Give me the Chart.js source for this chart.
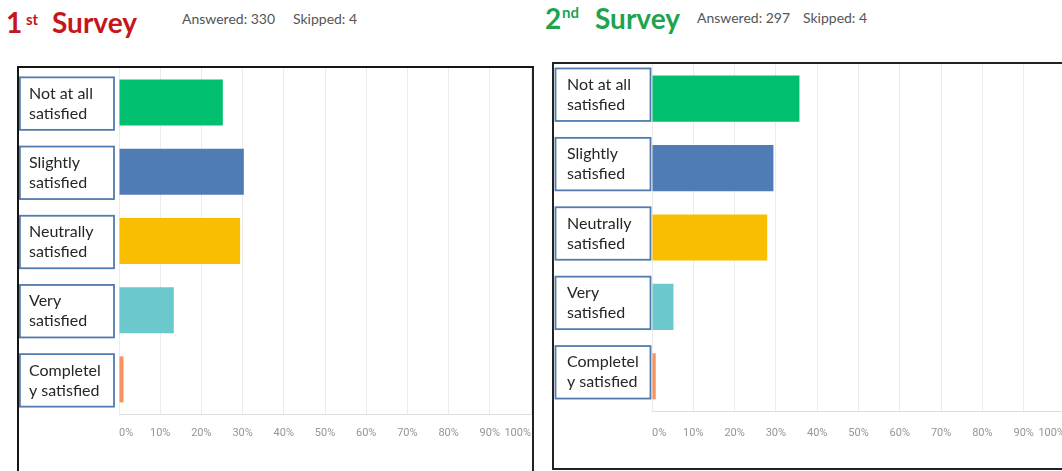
<!DOCTYPE html>
<html>
<head>
<meta charset="utf-8">
<script src="https://cdn.jsdelivr.net/npm/chart.js@4.4.1/dist/chart.umd.min.js"></script>
<style>
  html, body { margin: 0; padding: 0; background: #fff; }
  body { width: 1062px; height: 471px; overflow: hidden; position: relative; font-family: Lato, "Open Sans", sans-serif; }
  .head { position: absolute; top: 0; left: 0; white-space: nowrap; font-weight: 700; }
  .head span { position: absolute; white-space: nowrap; }
  .big { font-size: 28px; line-height: 32px; }
  .small { font-size: 15px; line-height: 18px; }
  .red { color: #c4161c; }
  .green { color: #1ea34f; }
  .meta { position: absolute; font-size: 14px; line-height: 16px; color: #555; white-space: nowrap; }
  .frame { position: absolute; box-sizing: content-box; }
  .frame canvas { display: block; }
  #frameA { left: 17px; top: 66px; width: 513px; height: 403px;
            border-left: 2px solid #151515; border-top: 2px solid #151515;
            border-right: 2px solid #222; border-bottom: 1px solid #bdbdbd; }
  #frameB { left: 552px; top: 62px; width: 514px; height: 404px; border: 2px solid #222; }
</style>
</head>
<body>
  <div class="head red">
    <span class="big" style="left:6px; top:6px;">1</span>
    <span class="small" style="left:26px; top:10px;">st</span>
    <span class="big" style="left:52px; top:6px;">Survey</span>
  </div>
  <div class="meta" style="left:182px; top:10.5px;">Answered: 330</div>
  <div class="meta" style="left:293px; top:10.5px;">Skipped: 4</div>

  <div class="head green">
    <span class="big" style="left:545px; top:1.5px;">2</span>
    <span class="small" style="left:562px; top:2.5px;">nd</span>
    <span class="big" style="left:595px; top:1.5px;">Survey</span>
  </div>
  <div class="meta" style="left:697px; top:9.5px;">Answered: 297</div>
  <div class="meta" style="left:803px; top:9.5px;">Skipped: 4</div>

  <div class="frame" id="frameA"><canvas id="surveyA" width="513" height="403"></canvas></div>
  <div class="frame" id="frameB"><canvas id="surveyB" width="514" height="404"></canvas></div>

<script>
// Answer options, shares of respondents (%) and the percentage ticks
const satisfactionLevels = [
  ['Not at all', 'satisfied'],
  ['Slightly', 'satisfied'],
  ['Neutrally', 'satisfied'],
  ['Very', 'satisfied'],
  ['Completel', 'y satisfied']
];
const firstSurveyShares  = [25.2, 30.3, 29.4, 13.3, 1.1];
const secondSurveyShares = [35.7, 29.4, 27.9, 5.2, 0.9];
const percentTicks = [0, 10, 20, 30, 40, 50, 60, 70, 80, 90, 100];

const levelColours = ['#00bf6f', '#507cb6', '#f9be00', '#6bc8cd', '#f7925c'];

// Outlined boxes behind each answer label
const labelBoxes = {
  id: 'labelBoxes',
  beforeDraw(chart, args, opts) {
    const y = chart.scales.y;
    const ctx = chart.ctx;
    ctx.save();
    ctx.fillStyle = '#ffffff';
    ctx.strokeStyle = '#527bad';
    ctx.lineWidth = 1.8;
    y.ticks.forEach((t, i) => {
      const cy = y.getPixelForTick(i) + opts.shift;
      const top = cy - opts.height / 2;
      ctx.fillRect(opts.left, top, opts.right - opts.left, opts.height);
      ctx.strokeRect(opts.left, top, opts.right - opts.left, opts.height);
    });
    ctx.restore();
  }
};

function drawSurvey(canvasId, shares, geo) {
  new Chart(document.getElementById(canvasId), {
    type: 'bar',
    data: {
      labels: satisfactionLevels,
      datasets: [{
        data: shares,
        backgroundColor: levelColours,
        borderWidth: 0,
        barPercentage: 0.665,
        categoryPercentage: 1
      }]
    },
    options: {
      indexAxis: 'y',
      responsive: false,
      animation: false,
      devicePixelRatio: 1,
      layout: { padding: { left: geo.textLeft, right: geo.padRight, top: 0, bottom: 0 } },
      plugins: {
        legend: { display: false },
        tooltip: { enabled: false },
        labelBoxes: { left: geo.boxLeft, right: geo.boxRight, height: 52.5, shift: geo.shift }
      },
      scales: {
        x: {
          min: 0,
          max: 100,
          afterBuildTicks: (scale) => { scale.ticks = percentTicks.map(v => ({ value: v })); },
          afterFit: (scale) => { scale.height = geo.axisHeight; scale.paddingLeft = 0; scale.paddingRight = 0; },
          grid: { color: '#ebebeb', lineWidth: 1, drawTicks: false },
          border: { color: '#dedede', width: 1 },
          ticks: {
            align: 'inner',
            padding: geo.tickPad,
            color: '#959595',
            font: { family: 'Roboto', size: 11 },
            callback: (v) => v + '%'
          }
        },
        y: {
          afterFit: (scale) => { scale.width = geo.axisWidth; scale.paddingTop = 0; scale.paddingBottom = 0; },
          grid: { display: false },
          border: { display: false },
          ticks: {
            crossAlign: 'far',
            labelOffset: geo.shift,
            color: '#262626',
            font: { family: 'Lato', size: 16, lineHeight: 1.25 }
          }
        }
      }
    },
    plugins: [labelBoxes]
  });
}

drawSurvey('surveyA', firstSurveyShares, {
  textLeft: 10, axisWidth: 90, padRight: 1, axisHeight: 57, tickPad: 12.5,
  boxLeft: 0.9, boxRight: 95, shift: 1
});
drawSurvey('surveyB', secondSurveyShares, {
  textLeft: 13, axisWidth: 85, padRight: 3, axisHeight: 57, tickPad: 15.5,
  boxLeft: 1.5, boxRight: 96.5, shift: -4
});
</script>
</body>
</html>
